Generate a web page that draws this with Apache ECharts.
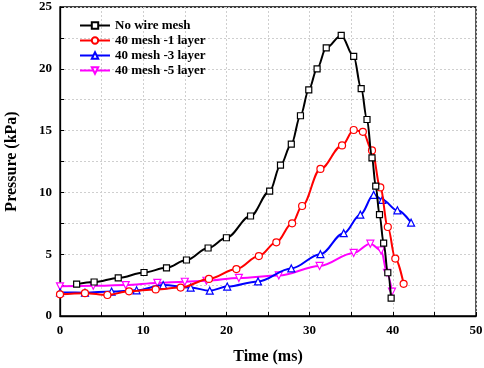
<!DOCTYPE html>
<html><head><meta charset="utf-8">
<script src="https://cdn.jsdelivr.net/npm/echarts@6/dist/echarts.min.js"></script>
<style>html,body{margin:0;padding:0;background:#fff}#c{width:484px;height:368px}</style>
</head><body><div id="c"></div>
<script>
const seriesNames = ["No wire mesh", "40 mesh -1 layer", "40 mesh -3 layer", "40 mesh -5 layer"];
const noMesh = [[2.0,2.58],[4.1,2.75],[7.0,3.08],[10.1,3.52],[12.8,3.9],[15.2,4.53],[17.8,5.5],[20.0,6.33],[22.9,8.09],[25.2,10.1],[26.5,12.2],[27.8,13.9],[28.9,16.2],[29.9,18.3],[30.9,20.0],[32.0,21.7],[33.8,22.7],[35.3,21.0],[36.2,18.4],[36.9,15.9],[37.5,12.8],[37.95,10.5],[38.4,8.2],[38.9,5.9],[39.4,3.5],[39.8,1.45]];
const mesh1 = [[0,1.75],[3.0,1.85],[5.7,1.7],[8.3,2.0],[11.5,2.15],[14.5,2.3],[17.9,3.0],[21.2,3.8],[23.9,4.85],[26.0,5.96],[27.9,7.5],[29.1,8.9],[31.3,11.9],[33.9,13.8],[35.3,15.05],[36.4,14.9],[37.5,13.4],[38.5,10.4],[39.4,7.2],[40.3,4.65],[41.3,2.6]];
const mesh3 = [[0,1.9],[3.0,1.89],[6.2,1.98],[9.2,2.08],[12.4,2.5],[15.7,2.3],[18.0,2.05],[20.1,2.38],[23.8,2.8],[27.8,3.85],[31.3,5.0],[34.1,6.7],[36.1,8.2],[37.7,9.8],[38.75,9.4],[40.55,8.55],[42.2,7.55]];
const mesh5 = [[0,2.4],[4.0,2.45],[7.9,2.5],[11.7,2.68],[15.0,2.77],[17.6,2.85],[21.5,3.08],[26.3,3.28],[31.2,4.05],[35.3,5.1],[37.3,5.85],[38.6,5.3],[39.3,3.5],[39.9,1.97]];
const xTicks = [0,10,20,30,40,50];
const yTicks = [0,5,10,15,20,25];

const colors = ['#000000','#ff0000','#0000ff','#ff00ff'];
const symbols = ['rect','circle','triangle','triangle'];
const rotates = [0,0,0,180];
const sizes = [6,7,7,7];
const datas = [noMesh, mesh1, mesh3, mesh5];
const font = '"Liberation Serif","Times New Roman",serif';

const chart = echarts.init(document.getElementById('c'));
chart.setOption({
  animation:false,
  backgroundColor:'#fff',
  grid:{left:60,right:8,top:7,bottom:52,outerBoundsMode:'none',containLabel:false,show:true,borderColor:'#000',borderWidth:1.3,backgroundColor:'transparent'},
  legend:{
    orient:'vertical', left:74, top:14, itemWidth:30, itemHeight:8, itemGap:2,
    textStyle:{fontFamily:font,fontWeight:'bold',fontSize:13,color:'#000'},
    data:seriesNames
  },
  xAxis:{
    type:'value', min:0, max:50, interval:5,
    name:'Time (ms)', nameLocation:'middle', nameGap:33,
    nameTextStyle:{fontFamily:font,fontWeight:'bold',fontSize:16,color:'#000'},
    axisLine:{lineStyle:{color:'#000',width:1.3}},
    axisTick:{inside:true,length:4,lineStyle:{color:'#000'}},
    axisLabel:{fontFamily:font,fontWeight:'bold',fontSize:13,color:'#000',margin:8,
      formatter:v=>xTicks.includes(v)?String(v):''},
    splitLine:{show:true,lineStyle:{color:'#cfcfcf',type:[2,2],width:1}}
  },
  yAxis:{
    type:'value', min:0, max:25, interval:2.5,
    name:'Pressure (kPa)', nameLocation:'middle', nameGap:40,
    nameTextStyle:{fontFamily:font,fontWeight:'bold',fontSize:16,color:'#000'},
    axisLine:{show:true,lineStyle:{color:'#000',width:1.3}},
    axisTick:{show:true,inside:true,length:4,lineStyle:{color:'#000'}},
    axisLabel:{fontFamily:font,fontWeight:'bold',fontSize:13,color:'#000',margin:8,
      formatter:v=>yTicks.includes(v)?String(v):''},
    splitLine:{show:true,lineStyle:{color:'#cfcfcf',type:[2,2],width:1}}
  },
  series: seriesNames.map((n,i)=>({
    name:n, type:'line', data:datas[i], smooth:0.35, smoothMonotone:'x',
    symbol:symbols[i], symbolRotate:rotates[i], symbolSize:sizes[i], showAllSymbol:true,
    lineStyle:{color:colors[i],width:2},
    itemStyle:{color:'#fff',borderColor:colors[i],borderWidth:1.2},
    z:10-i
  }))
});
</script></body></html>
